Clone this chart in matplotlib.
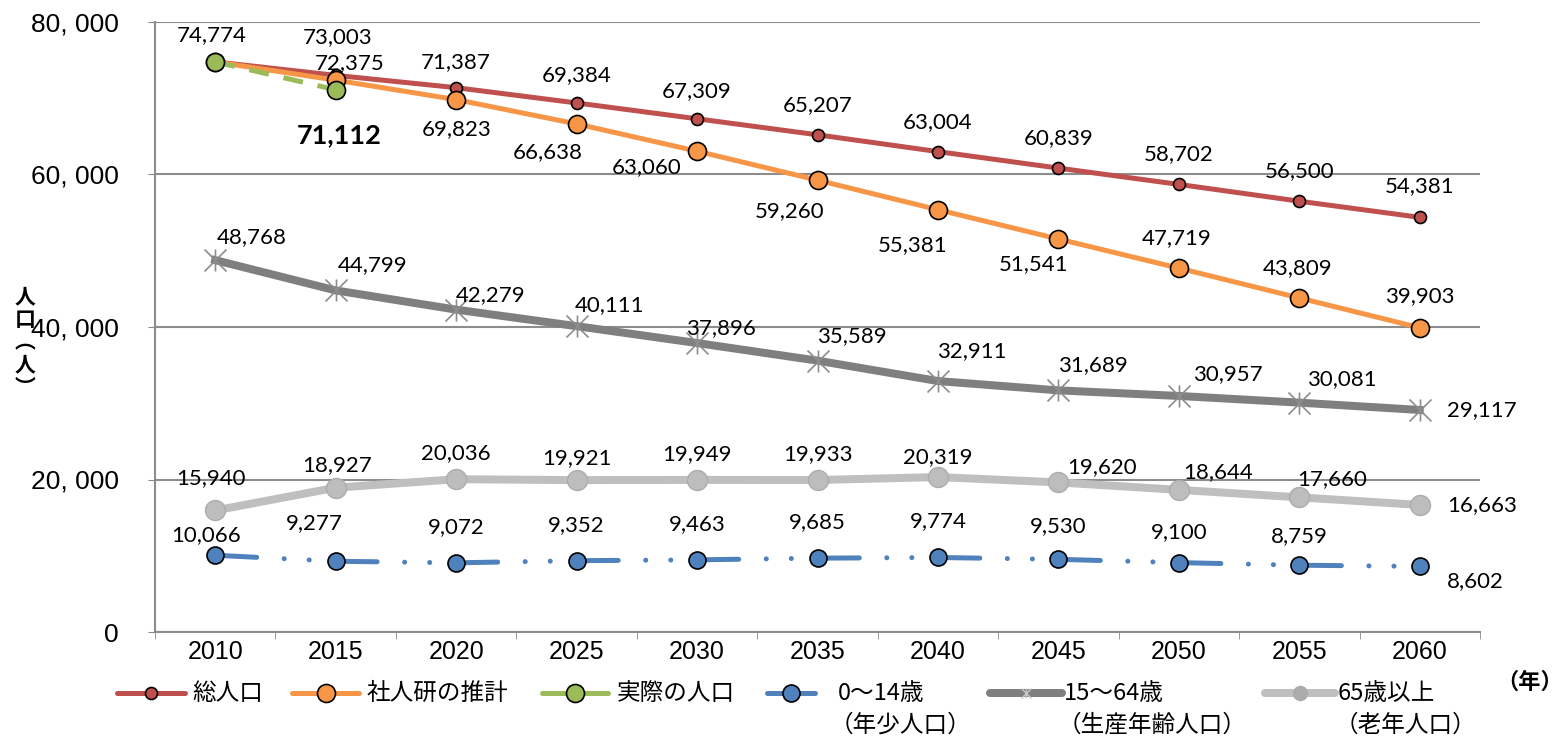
import matplotlib
matplotlib.use("Agg")
import matplotlib.pyplot as plt
from matplotlib.lines import Line2D
from matplotlib.path import Path

JP = ["Noto Sans CJK JP", "DejaVu Sans"]
NUM = ["Lato", "DejaVu Sans"]
TICK = ["Liberation Sans Narrow", "Liberation Sans", "DejaVu Sans"]

years = ["2010", "2015", "2020", "2025", "2030", "2035", "2040", "2045", "2050", "2055", "2060"]
total = [74774, 73003, 71387, 69384, 67309, 65207, 63004, 60839, 58702, 56500, 54381]
ipss = [74774, 72375, 69823, 66638, 63060, 59260, 55381, 51541, 47719, 43809, 39903]
actual = [74774, 71112]
young = [10066, 9277, 9072, 9352, 9463, 9685, 9774, 9530, 9100, 8759, 8602]
working = [48768, 44799, 42279, 40111, 37896, 35589, 32911, 31689, 30957, 30081, 29117]
elderly = [15940, 18927, 20036, 19921, 19949, 19933, 20319, 19620, 18644, 17660, 16663]

RED, ORANGE, GREEN, BLUE = "#C0504D", "#F79646", "#9BBB59", "#4F81BD"
DGRAY, LGRAY = "#7F7F7F", "#BFBFBF"
PX = 72 / 100  # points per pixel at dpi 100

star = Path([(0, -1), (0, 1), (-1, -1), (1, 1), (-1, 1), (1, -1)],
            [Path.MOVETO, Path.LINETO, Path.MOVETO, Path.LINETO, Path.MOVETO, Path.LINETO])

fig = plt.figure(figsize=(15.64, 7.39), dpi=100)
ax = fig.add_axes([155 / 1564, 1 - 632 / 739, 1325 / 1564, 610 / 739])
x = list(range(len(years)))

ax.plot(x, elderly, color=LGRAY, lw=8 * PX, marker="o", ms=20 * PX,
        mfc="#BDBDBD", mec="#ADADAD", mew=1, zorder=3)
ax.plot(x, working, color=DGRAY, lw=8 * PX, marker=star, ms=22 * PX,
        mec="#8C8C8C", mew=1.2, zorder=3)
yl, = ax.plot(x, young, color=BLUE, lw=5 * PX, marker="o", ms=17 * PX,
              mfc=BLUE, mec="black", mew=1.2, zorder=4)
# long dash, dot, dot (units of line width, 5 px)
yl.set_dashes([8.3, 5.5, 0.01, 5.0, 0.01, 5.29])
yl.set_dash_capstyle("round")
ax.plot(x, total, color=RED, lw=5 * PX, marker="o", ms=12 * PX,
        mfc=RED, mec="black", mew=1.2, zorder=4)
ax.plot(x, ipss, color=ORANGE, lw=5 * PX, marker="o", ms=18 * PX,
        mfc=ORANGE, mec="black", mew=1.2, zorder=5)
ax.plot(x[:len(actual)], actual, color=GREEN, lw=5 * PX, ls=(0, (4, 3)),
        marker="o", ms=18 * PX, mfc=GREEN, mec="black", mew=1.2, zorder=6)

ax.set_xlim(-0.5, len(years) - 0.5)
ax.set_ylim(0, 80000)
ax.set_yticks(range(0, 80001, 20000))
ax.set_yticklabels(["0" if v == 0 else f"{v // 1000}, 000" for v in range(0, 80001, 20000)],
                   family=TICK, fontsize=19)
ax.set_xticks(x)
ax.set_xticklabels(years, family=TICK, fontsize=18)
ax.set_xticks([i - 0.5 for i in range(len(years) + 1)], minor=True)
ax.tick_params(axis="x", which="major", length=0, pad=6)
ax.tick_params(axis="x", which="minor", length=5, color="#888888", direction="out")
ax.tick_params(axis="y", length=5, color="#888888", direction="out", pad=21)
ax.grid(axis="y", color="#8C8C8C", lw=1.5)
ax.set_axisbelow(True)
for s in ["top", "right"]:
    ax.spines[s].set_visible(False)
for s in ["left", "bottom"]:
    ax.spines[s].set_color("#8C8C8C")
    ax.spines[s].set_linewidth(1.5)


def label(vals, offsets, **kw):
    for i, (v, off) in enumerate(zip(vals, offsets)):
        if off is None:
            continue
        ax.annotate(f"{v:,}", (i, v), xytext=off, textcoords="offset pixels",
                    ha="center", va="center", family=NUM, fontsize=16, **kw)


label(total, [None, (2, 38), (0, 26), (0, 28), (0, 28), (0, 30), (0, 30), (0, 30), (0, 30), (0, 30), (0, 31)])
label(ipss, [None, (14, 17), (0, -29), (-29, -28), (-50, -16), (-28, -31), (-25, -35), (-25, -25), (-2, 30), (-2, 30), (0, 32)])
label(actual, [(-4, 27), (4, -45)])
ax.texts[-1].set_fontweight("bold")
ax.texts[-1].set_fontsize(19.5)
label(working, [(37, 23), (37, 25), (34, 15), (33, 21), (24, 15), (34, 25), (34, 30), (34, 25), (49, 22), (43, 24), (62, 0)])
label(elderly, [(-4, 32), (1, 23), (0, 26), (0, 22), (0, 26), (0, 26), (0, 20), (44, 15), (39, 18), (33, 18), (62, 0)])
label(young, [(-9, 20), (-21, 38), (0, 36), (0, 36), (0, 36), (0, 36), (0, 36), (0, 33), (0, 31), (0, 29), (56, -15)])

# y-axis title, stacked vertically
fig.text(25 / 1564, 1 - 342 / 739, "人\n口\n︵\n人\n︶", family=JP, fontsize=15,
         fontweight="bold", ha="center", va="center", linespacing=1.1)

# legend drawn by hand: (line start, line end, text x, row 2 x, text, row 2 text, style)
legend = [
    (117, 185, 192, None, "総人口", None,
     dict(color=RED, lw=5 * PX, marker="o", ms=12 * PX, mfc=RED, mec="black", mew=1.2)),
    (292, 359, 367, None, "社人研の推計", None,
     dict(color=ORANGE, lw=5 * PX, marker="o", ms=18 * PX, mfc=ORANGE, mec="black", mew=1.2)),
    (542, 608, 617, None, "実際の人口", None,
     dict(color=GREEN, lw=5 * PX, marker="o", ms=18 * PX, mfc=GREEN, mec="black", mew=1.2)),
    (767, 815, 838, 830, "0～14歳", "（年少人口）",
     dict(color=BLUE, lw=5 * PX, marker="o", ms=17 * PX, mfc=BLUE, mec="black", mew=1.2)),
    (990, 1062, 1064, 1058, "15～64歳", "（生産年齢人口）",
     dict(color=DGRAY, lw=8 * PX, marker=star, ms=10 * PX, mec="#C8C8C8", mew=1)),
    (1265, 1335, 1338, 1335, "65歳以上", "（老年人口）",
     dict(color=LGRAY, lw=8 * PX, marker="o", ms=14 * PX, mfc="#ABABAB", mec="#ABABAB")),
]
ly, ly2 = 1 - 693 / 739, 1 - 725 / 739
for x0, x1, tx, tx2, t1, t2, st in legend:
    fig.add_artist(Line2D([x0 / 1564, x1 / 1564], [ly, ly], solid_capstyle="round",
                          color=st["color"], lw=st["lw"]))
    fig.add_artist(Line2D([(x0 + x1) / 2 / 1564], [ly], ls="none", marker=st["marker"], ms=st["ms"],
                          mfc=st.get("mfc", st["color"]), mec=st.get("mec", st["color"]),
                          mew=st.get("mew", 1)))
    fig.text(tx / 1564, ly, t1, family=JP, fontsize=17, ha="left", va="center")
    if t2:
        fig.text(tx2 / 1564, ly2, t2, family=JP, fontsize=17, ha="left", va="center")
fig.text(1563 / 1564, 1 - 682 / 739, "（年）", family=JP, fontsize=16, fontweight="bold",
         ha="right", va="center")

fig.savefig("out.png", dpi=100)
